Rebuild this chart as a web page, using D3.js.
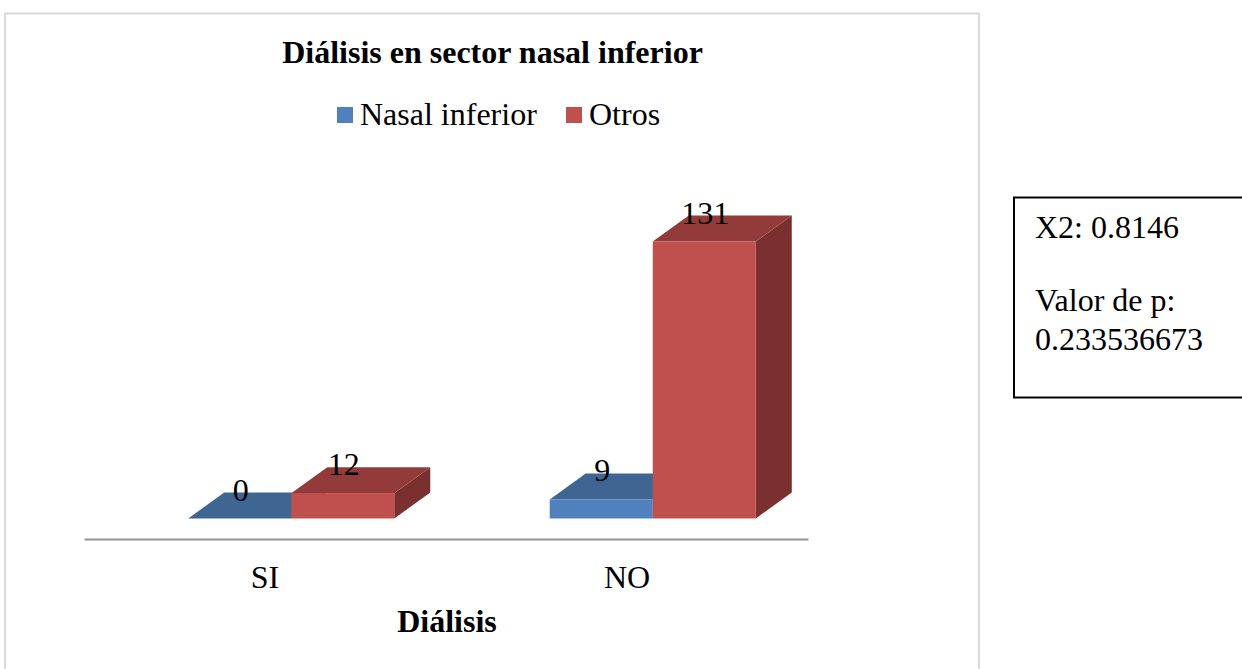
<!DOCTYPE html>
<html>
<head>
<meta charset="utf-8">
<script src="https://cdn.jsdelivr.net/npm/d3@7"></script>
<style>
html,body{margin:0;padding:0;background:#fff;overflow:hidden}
svg{display:block}
text{font-family:"Liberation Serif","Times New Roman",serif;fill:#000}
</style>
</head>
<body>
<svg id="c" width="1242" height="669"></svg>
<script>
const categories = ["SI", "NO"];
const seriesNames = ["Nasal inferior", "Otros"];
const nasalInferior = [0, 9];
const otros = [12, 131];
const chartTitle = "Diálisis en sector nasal inferior";
const axisTitle = "Diálisis";
const noteLines = ["X2: 0.8146", "Valor de p:", "0.233536673"];

const colors = {
  "Nasal inferior": {front:"#4f81bd", top:"#3f6592", side:"#37587f"},
  "Otros": {front:"#c0504d", top:"#933b3a", side:"#7a302e"}
};
const svg = d3.select("#c");
const depthX = 36, depthY = 26, floorY = 518.5, axisY = 539, fs = 32;

// chart frame
svg.append("path").attr("d","M5,669V13.5H979V669").attr("fill","#fff").attr("stroke","#d9d9d9").attr("stroke-width",2);

const xAxisScale = d3.scaleBand().domain(categories).range([84,808]);
const xGroup = d3.scaleBand().domain(categories).range([110.5,833.5]).paddingInner(0.43).paddingOuter(0.215);
const xSeries = d3.scaleBand().domain(seriesNames).range([0,xGroup.bandwidth()]);
const y = d3.scaleLinear().domain([0,131]).range([floorY,241.5]);

const rows = categories.flatMap((c,i)=>[
  {cat:c, series:seriesNames[0], value:nasalInferior[i]},
  {cat:c, series:seriesNames[1], value:otros[i]}
]);

// x axis via d3
const ax = svg.append("g").attr("transform",`translate(0,${axisY})`).call(d3.axisBottom(xAxisScale).tickSize(0).tickPadding(0));
ax.select(".domain").attr("stroke","#969696").attr("stroke-width",2);
ax.selectAll("text").attr("font-size",fs).attr("font-family",'"Liberation Serif"').attr("y",49).attr("dy",0).attr("fill","#000");

const bars = svg.append("g").selectAll("g").data(rows).join("g");
const left = d=>xGroup(d.cat)+xSeries(d.series);
const w = xSeries.bandwidth();
// side
bars.append("path").attr("fill",d=>colors[d.series].side)
  .attr("d",d=>{const x=left(d)+w,t=y(d.value);return `M${x},${t}L${x+depthX},${t-depthY}V${floorY-depthY}L${x},${floorY}Z`;});
// top
bars.append("path").attr("fill",d=>colors[d.series].top)
  .attr("d",d=>{const x=left(d),t=y(d.value);return `M${x},${t}L${x+depthX},${t-depthY}H${x+w+depthX}L${x+w},${t}Z`;});
// front
bars.append("rect").attr("fill",d=>colors[d.series].front)
  .attr("x",left).attr("width",w).attr("y",d=>y(d.value)).attr("height",d=>floorY-y(d.value));
// labels
svg.append("g").selectAll("text").data(rows).join("text")
  .attr("x",d=>left(d)+w/2+1).attr("y",d=>y(d.value)-18)
  .attr("text-anchor","middle").attr("font-size",fs).text(d=>d.value);

// titles
svg.append("text").attr("x",492.5).attr("y",63).attr("text-anchor","middle")
  .attr("font-size",fs).attr("font-weight","bold").text(chartTitle);
svg.append("text").attr("x",447).attr("y",632).attr("text-anchor","middle")
  .attr("font-size",fs).attr("font-weight","bold").text(axisTitle);

// legend
const legendX = d3.scaleOrdinal().domain(seriesNames).range([337,566]);
const lg = svg.append("g").selectAll("g").data(seriesNames).join("g");
lg.append("rect").attr("x",d=>legendX(d)).attr("y",107).attr("width",16).attr("height",16).attr("fill",d=>colors[d].front);
lg.append("text").attr("x",d=>legendX(d)+23).attr("y",125).attr("font-size",fs).text(d=>d);

// note box
svg.append("rect").attr("x",1014).attr("y",197.5).attr("width",240).attr("height",200).attr("fill","#fff").attr("stroke","#000").attr("stroke-width",2);
const noteBase = [238,311,350];
svg.append("g").selectAll("text").data(noteLines).join("text")
  .attr("x",1035).attr("y",(d,i)=>noteBase[i]).attr("font-size",fs).text(d=>d);
</script>
</body>
</html>
